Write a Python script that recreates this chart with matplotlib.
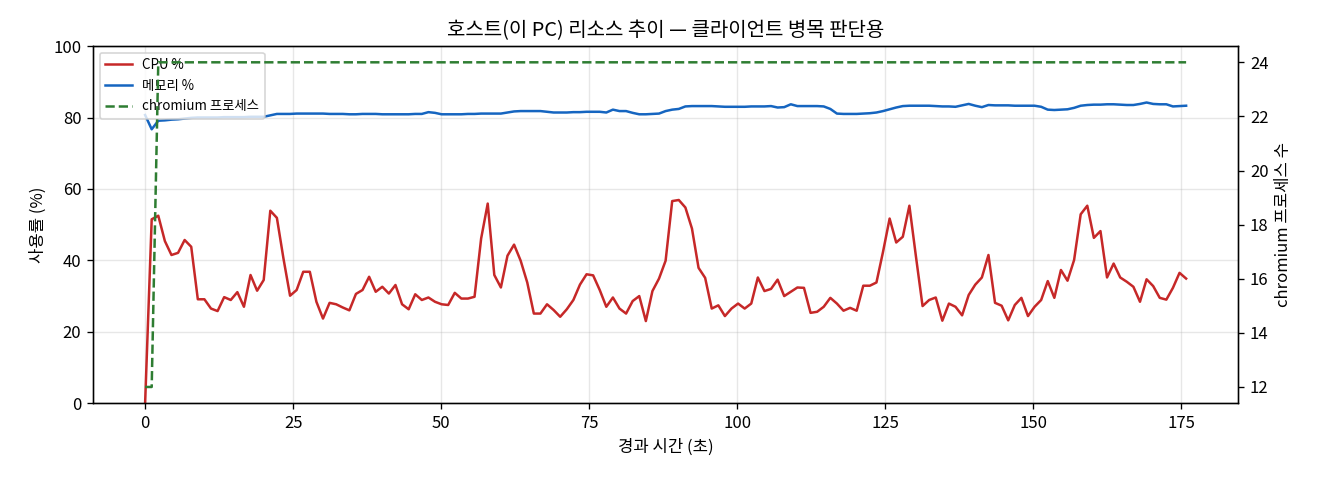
import numpy as np
import matplotlib
matplotlib.use("Agg")
import matplotlib.pyplot as plt

plt.rcParams['font.family'] = ['Noto Sans CJK KR', 'DejaVu Sans']
plt.rcParams['axes.unicode_minus'] = False

# ==========================
# data (sampled about every 1.11 s)
# ==========================
SAMPLE_SEC = 1.1127

cpu_pct = [
    0.0, 51.5, 52.5, 45.4, 41.5, 42.1, 45.7, 43.8, 29.1, 29.1,
    26.5, 25.8, 29.7, 28.9, 31.1, 27.0, 35.9, 31.5, 34.5, 53.9,
    51.9, 40.5, 30.1, 31.7, 36.8, 36.8, 28.4, 23.7, 28.1, 27.7,
    26.8, 26.0, 30.6, 31.7, 35.4, 31.2, 32.6, 30.7, 33.1, 27.7,
    26.3, 30.5, 28.9, 29.6, 28.4, 27.7, 27.5, 30.9, 29.3, 29.3,
    29.8, 46.1, 55.9, 35.9, 32.4, 41.3, 44.4, 39.9, 33.8, 25.1,
    25.1, 27.7, 26.1, 24.2, 26.3, 28.9, 33.2, 36.1, 35.8, 31.7,
    27.0, 29.6, 26.5, 25.1, 28.6, 30.0, 23.0, 31.4, 34.9, 39.9,
    56.6, 56.9, 54.8, 48.9, 37.9, 35.1, 26.5, 27.4, 24.4, 26.5,
    27.9, 26.5, 27.9, 35.2, 31.4, 32.0, 34.6, 30.0, 31.2, 32.4,
    32.3, 25.3, 25.6, 27.0, 29.5, 27.9, 25.9, 26.7, 25.9, 32.9,
    32.9, 33.8, 42.4, 51.7, 45.0, 46.6, 55.3, 41.0, 27.2, 28.9,
    29.6, 23.1, 27.9, 27.0, 24.6, 30.3, 33.2, 35.2, 41.5, 28.1,
    27.3, 23.2, 27.5, 29.5, 24.4, 27.0, 28.9, 34.2, 29.5, 37.3,
    34.3, 40.1, 52.9, 55.3, 46.3, 48.2, 35.2, 39.1, 35.2, 34.0,
    32.6, 28.4, 34.7, 32.8, 29.5, 29.0, 32.3, 36.5, 34.9,
]

mem_pct = [
    80.7, 76.7, 79.1, 79.2, 79.4, 79.5, 79.7, 79.9, 80.0, 80.0,
    80.0, 80.0, 80.1, 80.1, 80.1, 80.1, 80.2, 80.2, 80.2, 80.6,
    81.0, 81.0, 81.0, 81.1, 81.1, 81.1, 81.1, 81.1, 81.0, 81.0,
    81.0, 80.9, 80.9, 81.0, 81.0, 81.0, 80.9, 80.9, 80.9, 80.9,
    80.9, 81.0, 81.0, 81.5, 81.3, 80.9, 80.9, 80.9, 80.9, 81.0,
    81.0, 81.1, 81.1, 81.1, 81.1, 81.4, 81.7, 81.8, 81.8, 81.8,
    81.8, 81.6, 81.4, 81.4, 81.4, 81.5, 81.5, 81.6, 81.6, 81.6,
    81.4, 82.2, 81.8, 81.8, 81.3, 80.9, 80.9, 81.0, 81.1, 81.8,
    82.2, 82.4, 83.1, 83.2, 83.2, 83.2, 83.2, 83.1, 83.0, 83.0,
    83.0, 83.0, 83.1, 83.1, 83.1, 83.2, 82.8, 82.9, 83.7, 83.2,
    83.2, 83.2, 83.2, 83.1, 82.4, 81.1, 81.0, 81.0, 81.0, 81.1,
    81.2, 81.4, 81.8, 82.3, 82.8, 83.2, 83.3, 83.3, 83.3, 83.3,
    83.2, 83.1, 83.1, 83.0, 83.4, 83.8, 83.3, 82.9, 83.5, 83.4,
    83.4, 83.4, 83.3, 83.3, 83.3, 83.3, 83.0, 82.2, 82.1, 82.2,
    82.3, 82.7, 83.3, 83.5, 83.6, 83.6, 83.7, 83.7, 83.6, 83.5,
    83.5, 83.8, 84.2, 83.8, 83.7, 83.7, 83.1, 83.2, 83.3,
]

chromium_cnt = [12, 12] + [24] * 157

elapsed = np.arange(len(cpu_pct)) * SAMPLE_SEC

# ==========================
# plot
# ==========================
fig, ax = plt.subplots(figsize=(11, 4), dpi=120)

l1, = ax.plot(elapsed, cpu_pct, color='#c62828', lw=1.5, label='CPU %')
l2, = ax.plot(elapsed, mem_pct, color='#1565c0', lw=1.5, label='메모리 %')
ax.set_ylim(0, 100)
ax.set_xlabel('경과 시간 (초)')
ax.set_ylabel('사용률 (%)')
ax.grid(True, alpha=0.3)

ax2 = ax.twinx()
l3, = ax2.plot(elapsed, chromium_cnt, color='#2e7d32', lw=1.5, ls='--', label='chromium 프로세스')
ax2.set_ylabel('chromium 프로세스 수')

ax.legend(handles=[l1, l2, l3], loc='upper left', fontsize=8)
ax.set_title('호스트(이 PC) 리소스 추이 — 클라이언트 병목 판단용')

fig.subplots_adjust(left=0.0705, right=0.938, top=0.904, bottom=0.160)
plt.savefig('out.png', dpi=120)
plt.close()
